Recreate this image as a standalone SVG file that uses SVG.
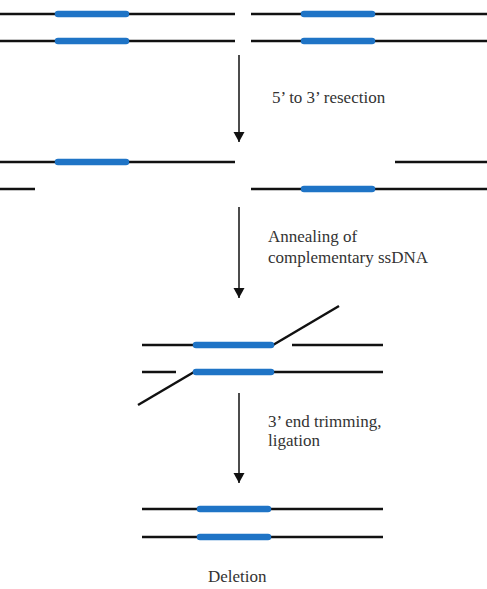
<svg xmlns="http://www.w3.org/2000/svg" width="487" height="589" viewBox="0 0 487 589">
<style>
.dna{stroke:#111;stroke-width:2.5;fill:none}
.gene{stroke:#1f74c6;stroke-width:6.5;stroke-linecap:round;fill:none}
.arr{stroke:#111;stroke-width:1.5;fill:none}
.lbl{font-family:"Liberation Serif","Times New Roman",serif;font-size:17px;fill:#333}
</style>
<defs>
<marker id="ah" markerWidth="12" markerHeight="12" refX="10" refY="5.5" orient="auto" markerUnits="userSpaceOnUse">
<path d="M0,0 L10,5.5 L0,11 Z" fill="#111"/>
</marker>
</defs>
<rect width="487" height="589" fill="#fff"/>
<g id="stage1">
<line class="dna" x1="0" y1="14" x2="235" y2="14"/>
<line class="dna" x1="251" y1="14" x2="487" y2="14"/>
<line class="dna" x1="0" y1="41" x2="235" y2="41"/>
<line class="dna" x1="251" y1="41" x2="487" y2="41"/>
<line class="gene" x1="58" y1="14" x2="126" y2="14"/>
<line class="gene" x1="304" y1="14" x2="372" y2="14"/>
<line class="gene" x1="58" y1="41" x2="126" y2="41"/>
<line class="gene" x1="304" y1="41" x2="372" y2="41"/>
</g>
<g id="stage2">
<line class="dna" x1="0" y1="162" x2="235" y2="162"/>
<line class="dna" x1="395" y1="162" x2="487" y2="162"/>
<line class="dna" x1="0" y1="189" x2="35" y2="189"/>
<line class="dna" x1="251" y1="189" x2="487" y2="189"/>
<line class="gene" x1="58" y1="162" x2="126" y2="162"/>
<line class="gene" x1="304" y1="189" x2="372" y2="189"/>
</g>
<g id="stage3">
<line class="dna" x1="142" y1="345" x2="194" y2="345"/>
<line class="dna" x1="273" y1="345" x2="339" y2="306"/>
<line class="dna" x1="292" y1="345" x2="383" y2="345"/>
<line class="dna" x1="142" y1="372" x2="176" y2="372"/>
<line class="dna" x1="138" y1="405" x2="194" y2="372"/>
<line class="dna" x1="273" y1="372" x2="383" y2="372"/>
<line class="gene" x1="196" y1="345" x2="271" y2="345"/>
<line class="gene" x1="196" y1="372" x2="271" y2="372"/>
</g>
<g id="stage4">
<line class="dna" x1="142" y1="509" x2="383" y2="509"/>
<line class="dna" x1="142" y1="537" x2="383" y2="537"/>
<line class="gene" x1="200" y1="509" x2="268" y2="509"/>
<line class="gene" x1="200" y1="537" x2="268" y2="537"/>
</g>
<g id="connectors">
<line class="arr" x1="239" y1="55" x2="239" y2="142" marker-end="url(#ah)"/>
<line class="arr" x1="239" y1="207" x2="239" y2="298" marker-end="url(#ah)"/>
<line class="arr" x1="239" y1="393" x2="239" y2="483" marker-end="url(#ah)"/>
</g>
<g id="labels">
<text class="lbl" x="272" y="103">5’ to 3’ resection</text>
<text class="lbl" x="268" y="242">Annealing of</text>
<text class="lbl" x="268" y="263">complementary ssDNA</text>
<text class="lbl" x="268" y="427">3’ end trimming,</text>
<text class="lbl" x="268" y="446">ligation</text>
<text class="lbl" x="208" y="582">Deletion</text>
</g>
</svg>
